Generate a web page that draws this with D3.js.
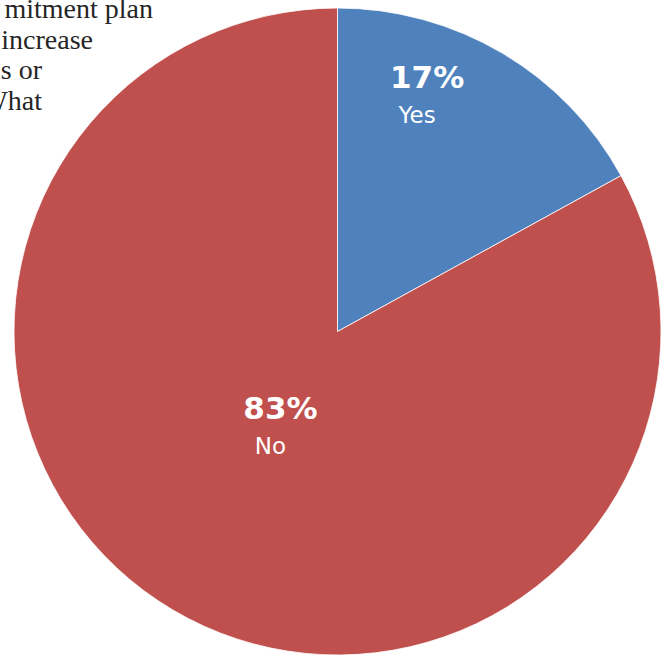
<!DOCTYPE html>
<html>
<head>
<meta charset="utf-8">
<script src="https://cdn.jsdelivr.net/npm/d3@7"></script>
<style>
  html, body { margin: 0; padding: 0; background: #fff; overflow: hidden; }
  svg { display: block; }
</style>
</head>
<body>
<svg id="chart" width="670" height="656"></svg>
<script>
// ---- data ----
const categories = ["Yes", "No"];
const values = [17, 83];
const colors = ["#4F81BD", "#C0504D"];
const titleLines = ["mitment plan", "increase", "s or", "What"];

// ---- layout ----
const cx = 337.5, cy = 331.5, R = 323.5;
const svg = d3.select("#chart");

// title fragment (visible part of the reference's cropped title)
const titleRightEdges = [153, 93, 42, 42];
svg.append("g").selectAll("text")
  .data(titleLines)
  .join("text")
  .attr("x", (d, i) => titleRightEdges[i])
  .attr("y", (d, i) => 18 + i * 30.5)
  .attr("text-anchor", "end")
  .attr("font-family", "'Liberation Serif', 'DejaVu Serif', serif")
  .attr("font-size", 28)
  .attr("fill", "#262626")
  .text(d => d);

const pie = d3.pie().sort(null).value(d => d.value);
const arcs = pie(categories.map((c, i) => ({ cat: c, value: values[i], color: colors[i] })));
const arc = d3.arc().innerRadius(0).outerRadius(R);

const g = svg.append("g").attr("transform", `translate(${cx},${cy})`);
g.selectAll("path")
  .data(arcs)
  .join("path")
  .attr("d", arc)
  .attr("fill", d => d.data.color)
  .attr("stroke", "#fff")
  .attr("stroke-width", 0.8);

// label placement (best-fit style): radius fraction and position within slice angle
const labelRadius = [0.747, 0.377];
const labelAngleFrac = [0.335, 0.5];
const total = d3.sum(values);
const fmt = v => Math.round(v / total * 100) + "%";

const labels = g.selectAll("g.lbl")
  .data(arcs)
  .join("g")
  .attr("class", "lbl")
  .attr("transform", (d, i) => {
    const a = d.startAngle + (d.endAngle - d.startAngle) * labelAngleFrac[i];
    const r = R * labelRadius[i];
    return `translate(${r * Math.sin(a)},${-r * Math.cos(a)})`;
  });

labels.append("text")
  .attr("x", 5)
  .attr("y", -17)
  .attr("text-anchor", "middle")
  .attr("font-family", "'DejaVu Sans', sans-serif")
  .attr("font-weight", "bold")
  .attr("font-size", 31)
  .attr("fill", "#fff")
  .text(d => fmt(d.value));

labels.append("text")
  .attr("x", -5)
  .attr("y", 18)
  .attr("text-anchor", "middle")
  .attr("font-family", "'DejaVu Sans', sans-serif")
  .attr("font-size", 23)
  .attr("fill", "#fff")
  .text(d => d.data.cat);
</script>
</body>
</html>
